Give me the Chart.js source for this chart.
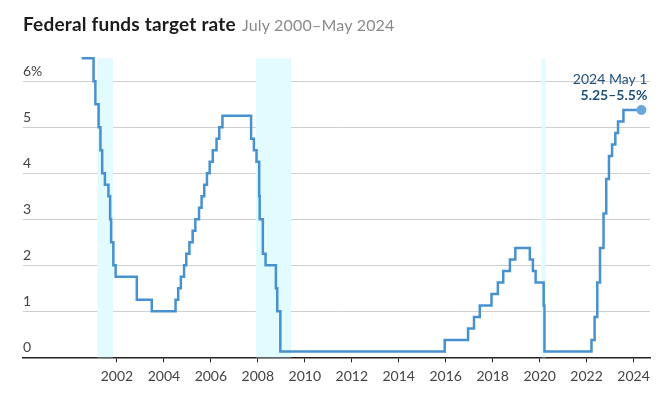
<!DOCTYPE html>
<html>
<head>
<meta charset="utf-8">
<script src="https://cdn.jsdelivr.net/npm/chart.js@4.4.0/dist/chart.umd.min.js"></script>
<style>
  html, body { margin: 0; padding: 0; background: #fff; }
  #wrap { position: relative; width: 672px; height: 395px; }
  #title { position: absolute; left: 23px; top: 12px; font-family: Lato, sans-serif; white-space: nowrap; }
  #title b { font-size: 19px; font-weight: 700; color: #1c1c1c; letter-spacing: 0.2px; }
  #title span { font-size: 16px; color: #8a8a8a; margin-left: 2px; letter-spacing: 0.2px; }
  canvas { position: absolute; left: 0; top: 0; }
</style>
</head>
<body>
<div id="wrap">
  <canvas id="chart" width="672" height="395"></canvas>
  <div id="title"><b>Federal funds target rate</b> <span>July 2000–May 2024</span></div>
</div>
<script>
// Fed funds target: date of each change and the midpoint of the target (range)
const changeDates = [
    '2000-07-01', '2001-01-03', '2001-01-31', '2001-03-20', '2001-04-18', '2001-05-15',
    '2001-06-27', '2001-08-21', '2001-09-17', '2001-10-02', '2001-11-06', '2001-12-11',
    '2002-11-06', '2003-06-25', '2004-06-30', '2004-08-10', '2004-09-21', '2004-11-10',
    '2004-12-14', '2005-02-02', '2005-03-22', '2005-05-03', '2005-06-30', '2005-08-09',
    '2005-09-20', '2005-11-01', '2005-12-13', '2006-01-31', '2006-03-28', '2006-05-10',
    '2006-06-29', '2007-09-18', '2007-10-31', '2007-12-11', '2008-01-22', '2008-01-30',
    '2008-03-18', '2008-04-30', '2008-10-08', '2008-10-29', '2008-12-16', '2015-12-16',
    '2016-12-14', '2017-03-15', '2017-06-14', '2017-12-13', '2018-03-21', '2018-06-13',
    '2018-09-26', '2018-12-19', '2019-07-31', '2019-09-18', '2019-10-30', '2020-03-03',
    '2020-03-15', '2022-03-16', '2022-05-04', '2022-06-15', '2022-07-27', '2022-09-21',
    '2022-11-02', '2022-12-14', '2023-02-01', '2023-03-22', '2023-05-03', '2023-07-26',
    '2024-05-01'
];
const rateValues = [
    6.5, 6.0, 5.5, 5.0, 4.5, 4.0,
    3.75, 3.5, 3.0, 2.5, 2.0, 1.75,
    1.25, 1.0, 1.25, 1.5, 1.75, 2.0,
    2.25, 2.5, 2.75, 3.0, 3.25, 3.5,
    3.75, 4.0, 4.25, 4.5, 4.75, 5.0,
    5.25, 4.75, 4.5, 4.25, 3.5, 3.0,
    2.25, 2.0, 1.5, 1.0, 0.125, 0.375,
    0.625, 0.875, 1.125, 1.375, 1.625, 1.875,
    2.125, 2.375, 2.125, 1.875, 1.625, 1.125,
    0.125, 0.375, 0.875, 1.625, 2.375, 3.125,
    3.875, 4.375, 4.625, 4.875, 5.125, 5.375,
    5.375
];

// Recessions (shaded)
const recessionStarts = ['2001-03-01', '2007-12-01', '2020-02-01'];
const recessionEnds = ['2001-11-01', '2009-06-01', '2020-04-01'];

const yearTicks = [2002, 2004, 2006, 2008, 2010, 2012, 2014, 2016, 2018, 2020, 2022, 2024];
const rateTicks = [0, 1, 2, 3, 4, 5, 6];

const endLabel = '2024 May 1';
const endValueLabel = '5.25–5.5%';

function toYear(s) {
    const [y, m, d] = s.split('-').map(Number);
    return y + (m - 1) / 12 + (d - 1) / 365;
}

const points = changeDates.map((d, i) => ({ x: toYear(d), y: rateValues[i] }));

const lineColor = '#4791cf';
const navy = '#1f4f7d';
const fontFamily = 'Lato, sans-serif';

// shaded recession bands behind the line
const recessionBands = {
    id: 'recessionBands',
    beforeDatasetsDraw(chart) {
        const { ctx, chartArea, scales } = chart;
        ctx.save();
        ctx.fillStyle = '#e2fbff';
        recessionStarts.forEach((s, i) => {
            const x0 = scales.x.getPixelForValue(toYear(s));
            const x1 = scales.x.getPixelForValue(toYear(recessionEnds[i]));
            ctx.fillRect(x0, chartArea.top, x1 - x0, chartArea.bottom - chartArea.top);
        });
        ctx.restore();
    }
};

// label above the last point
const endAnnotation = {
    id: 'endAnnotation',
    afterDatasetsDraw(chart) {
        const { ctx } = chart;
        const meta = chart.getDatasetMeta(0);
        const last = meta.data[meta.data.length - 1];
        ctx.save();
        ctx.textAlign = 'right';
        ctx.textBaseline = 'middle';
        ctx.fillStyle = navy;
        ctx.font = '14px ' + fontFamily;
        ctx.fillText(endLabel, last.x + 6, last.y - 31);
        ctx.font = 'bold 14px ' + fontFamily;
        ctx.fillText(endValueLabel, last.x + 6, last.y - 15);
        ctx.restore();
    }
};

new Chart(document.getElementById('chart'), {
    type: 'line',
    data: {
        datasets: [{
            data: points,
            borderColor: lineColor,
            borderWidth: 2.5,
            stepped: 'before',
            clip: false,
            pointRadius: ctx => ctx.dataIndex === points.length - 1 ? 5 : 0,
            pointBackgroundColor: '#68a8dc',
            pointBorderColor: '#68a8dc',
            pointBorderWidth: 0
        }]
    },
    options: {
        responsive: false,
        animation: false,
        layout: { padding: { left: 23, right: 22, top: 58.3, bottom: 7.7 } },
        plugins: {
            legend: { display: false },
            tooltip: { enabled: false }
        },
        scales: {
            x: {
                type: 'linear',
                min: 1998,
                max: 2024.7,
                afterFit: s => { s.height = 30; },
                afterBuildTicks: s => { s.ticks = yearTicks.map(v => ({ value: v })); },
                grid: {
                    drawOnChartArea: false,
                    drawTicks: true,
                    tickLength: 5,
                    color: '#222'
                },
                border: { display: true, color: '#222', width: 1.5 },
                ticks: {
                    padding: 6,
                    color: '#444',
                    font: { family: fontFamily, size: 14 },
                    maxRotation: 0,
                    callback: v => String(v)
                }
            },
            y: {
                min: 0,
                max: 6.5,
                afterFit: s => { s.width = 0; },
                afterBuildTicks: s => { s.ticks = rateTicks.map(v => ({ value: v })); },
                grid: {
                    drawTicks: false,
                    color: ctx => ctx.tick && ctx.tick.value === 0 ? 'rgba(0,0,0,0)' : '#cfcfcf',
                    lineWidth: 1
                },
                border: { display: false },
                ticks: {
                    mirror: true,
                    padding: 0,
                    labelOffset: -10,
                    color: '#444',
                    font: { family: fontFamily, size: 14 },
                    callback: v => v === 6 ? '6%' : String(v)
                }
            }
        }
    },
    plugins: [recessionBands, endAnnotation]
});
</script>
</body>
</html>
